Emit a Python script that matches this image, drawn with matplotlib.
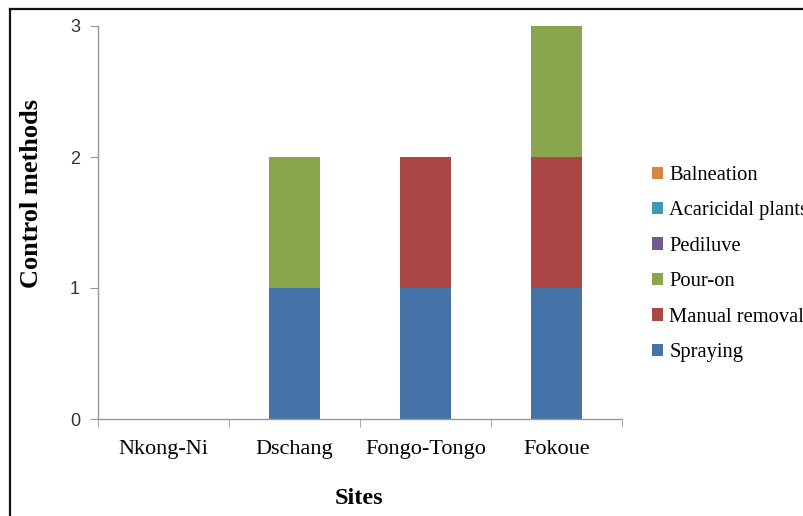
import matplotlib
matplotlib.use("Agg")
import matplotlib.pyplot as plt
from matplotlib.lines import Line2D
from matplotlib.patches import Patch
import numpy as np

sites = ["Nkong-Ni", "Dschang", "Fongo-Tongo", "Fokoue"]
methods = ["Spraying", "Manual removal", "Pour-on", "Pediluve", "Acaricidal plants", "Balneation"]
spraying = [0, 1, 1, 1]
manual_removal = [0, 0, 1, 1]
pour_on = [0, 1, 0, 1]
pediluve = [0, 0, 0, 0]
acaricidal_plants = [0, 0, 0, 0]
balneation = [0, 0, 0, 0]
series = [spraying, manual_removal, pour_on, pediluve, acaricidal_plants, balneation]
colors = ["#4572A7", "#AA4643", "#89A54E", "#71588F", "#4198AF", "#DB843D"]
yticks = [0, 1, 2, 3]

W, H = 804, 516
fig = plt.figure(figsize=(W / 100, H / 100), dpi=100)
ax = fig.add_axes([98 / W, 1 - 419 / H, (622 - 98) / W, (419 - 26) / H])

x = np.arange(len(sites))
bottom = np.zeros(len(sites))
for vals, col, name in zip(series, colors, methods):
    v = np.array(vals, dtype=float)
    ax.bar(x, v, width=0.39, bottom=bottom, color=col, label=name, zorder=2)
    bottom += v

ax.set_xlim(-0.5, len(sites) - 0.5)
ax.set_ylim(0, 3)
ax.set_yticks(yticks)
ax.set_yticklabels([str(t) for t in yticks], fontfamily="Liberation Sans", fontsize=13, color="#333333")
ax.set_xticks(x)
ax.set_xticklabels(sites, fontfamily="Liberation Serif", fontsize=16)
ax.set_xticks(np.arange(len(sites) + 1) - 0.5, minor=True)
ax.tick_params(axis="x", which="major", length=0, pad=15)
ax.tick_params(axis="x", which="minor", length=6, color="#999999", direction="out")
ax.tick_params(axis="y", length=6, color="#999999", direction="out", pad=7)

for s in ["top", "right"]:
    ax.spines[s].set_visible(False)
for s in ["left", "bottom"]:
    ax.spines[s].set_color("#999999")
    ax.spines[s].set_linewidth(1.0)

fig.text(32 / W, 1 - 193 / H, "Control methods", rotation=90, ha="center", va="center",
         fontfamily="Liberation Serif", fontweight="bold", fontsize=19)
fig.text(359 / W, 1 - 498 / H, "Sites", ha="center", va="center",
         fontfamily="Liberation Serif", fontweight="bold", fontsize=17.5)

handles = [Patch(facecolor=c, edgecolor="none") for c in colors][::-1]
labels = methods[::-1]
fig.legend(handles, labels, loc="upper left", bbox_to_anchor=(652 / W, 1 - 166 / H),
           frameon=False, prop={"family": "Liberation Serif", "size": 14.8},
           handlelength=0.55, handleheight=0.55, handletextpad=0.3, labelspacing=0.8,
           borderaxespad=0, borderpad=0)

fig.add_artist(Line2D([10 / W, 1.0], [1 - 9 / H, 1 - 9 / H], color="#111111", lw=1.6))
fig.add_artist(Line2D([10 / W, 10 / W], [1 - 9 / H, 0.0], color="#111111", lw=1.6))

fig.savefig("out.png", dpi=100)
